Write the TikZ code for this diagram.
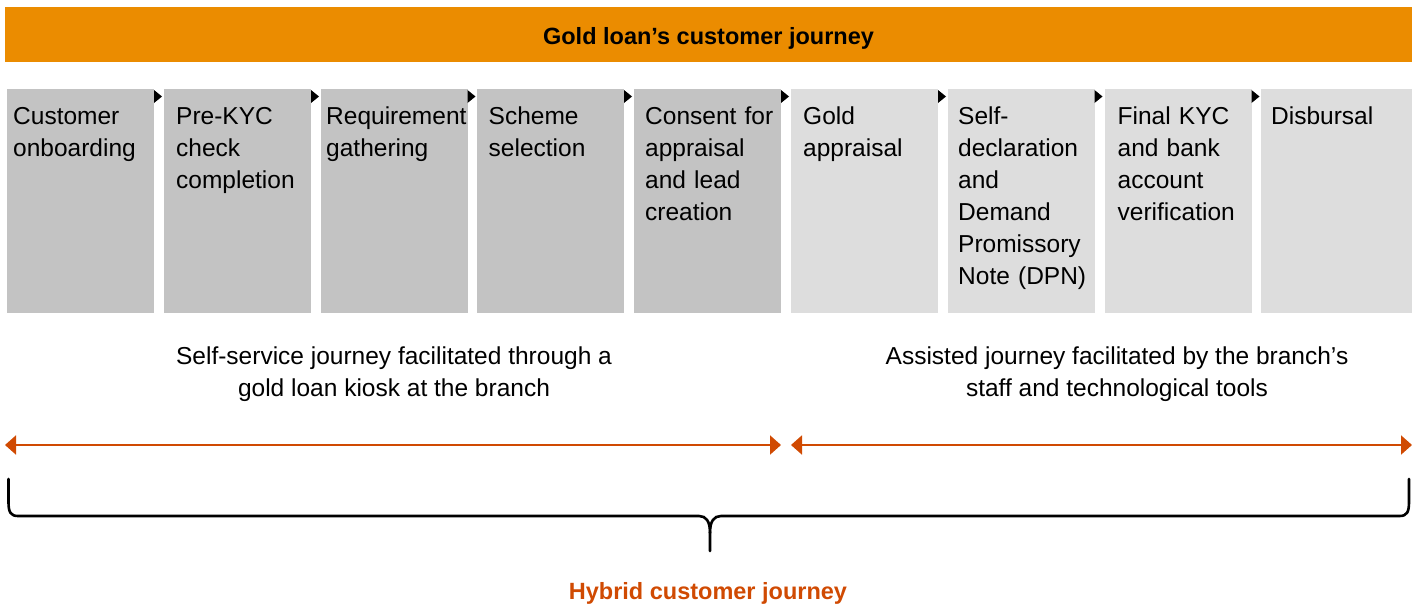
\documentclass[tikz,border=0pt]{standalone}
\usepackage{fontspec}
\setmainfont{Liberation Sans}
\usetikzlibrary{arrows.meta}
\definecolor{tang}{HTML}{EB8C00}
\definecolor{pwcor}{HTML}{D04A02}
\definecolor{darkbox}{HTML}{C3C3C3}
\definecolor{lightbox}{HTML}{DDDDDD}
\tikzset{
  stepbox/.style={fill=#1, draw=none, minimum width=147pt, minimum height=224pt,
    anchor=north west, inner sep=0pt, outer sep=0pt},
  steptext/.style={anchor=base west, text width=143pt, align=left, inner sep=0pt,
    font=\fontsize{24.5}{32}\selectfont},
  bodytext/.style={align=center, inner sep=0pt, font=\fontsize{24.5}{32}\selectfont},
  headtext/.style={anchor=base, inner sep=0pt, font=\bfseries\fontsize{23.5}{28}\selectfont},
  flowtri/.style={fill=black},
  orarrow/.style={draw=pwcor, line width=2pt,
    {Triangle[length=11pt,width=19pt]}-{Triangle[length=11pt,width=19pt]}},
  bracepath/.style={draw=black, line width=2.6pt, line cap=round}
}
\begin{document}
\begin{tikzpicture}[x=1pt,y=-1pt]
\useasboundingbox (0,0) rectangle (1417,606);
% banner
\node[fill=tang, minimum width=1407pt, minimum height=55pt, anchor=north west,
  inner sep=0pt, outer sep=0pt] (banner) at (5,7) {};
\node[headtext] (title) at (708.5,44.5) {Gold loan’s customer journey};
% boxes
\node[stepbox=darkbox] (b1) at (7,89) {};
\node[stepbox=darkbox] (b2) at (164,89) {};
\node[stepbox=darkbox] (b3) at (320.5,89) {};
\node[stepbox=darkbox] (b4) at (477,89) {};
\node[stepbox=darkbox] (b5) at (634,89) {};
\node[stepbox=lightbox] (b6) at (791,89) {};
\node[stepbox=lightbox] (b7) at (947.5,89) {};
\node[stepbox=lightbox] (b8) at (1104.5,89) {};
\node[stepbox=lightbox, minimum width=151pt] (b9) at (1261,89) {};
% box texts
\node[steptext] (t1) at ([xshift=6pt,yshift=-35pt]b1.north west) {Customer\\onboarding};
\node[steptext] (t2) at ([xshift=12pt,yshift=-35pt]b2.north west) {Pre-KYC\\check\\completion};
\node[steptext] (t3) at ([xshift=5.5pt,yshift=-35pt]b3.north west) {Requirement\\gathering};
\node[steptext] (t4) at ([xshift=11.5pt,yshift=-35pt]b4.north west) {Scheme\\selection};
\node[steptext] (t5) at ([xshift=11pt,yshift=-35pt]b5.north west) {Consent for\\appraisal\\and lead\\creation};
\node[steptext] (t6) at ([xshift=12pt,yshift=-35pt]b6.north west) {Gold\\appraisal};
\node[steptext] (t7) at ([xshift=10.5pt,yshift=-35pt]b7.north west) {Self-\\declaration\\and\\Demand\\Promissory\\Note (DPN)};
\node[steptext] (t8) at ([xshift=13pt,yshift=-35pt]b8.north west) {Final KYC\\and bank\\account\\verification};
\node[steptext] (t9) at ([xshift=10pt,yshift=-35pt]b9.north west) {Disbursal};
% flow triangles
\foreach \b in {b1,b2,b3,b4,b5,b6,b7,b8}{
  \fill[flowtri] ([yshift=-1pt]\b.north east) -- ++(0,13) -- ++(8,-6.5) -- cycle;
}
% middle texts
\node[bodytext] (selfsvc) at (394,374.5) {Self-service journey facilitated through a\\gold loan kiosk at the branch};
\node[bodytext] (assist) at (1117,374.5) {Assisted journey facilitated by the branch’s\\staff and technological tools};
% arrows
\coordinate (aL1) at (5,445);
\coordinate (aR1) at (781,445);
\coordinate (aL2) at (791,445);
\coordinate (aR2) at (1412,445);
\draw[orarrow] (aL1) -- (aR1);
\draw[orarrow] (aL2) -- (aR2);
% brace
\coordinate (brL) at (8.5,479);
\coordinate (brR) at (1409,479);
\coordinate (brM) at (710,551);
\draw[bracepath] (brL) -- (8.5,502) .. controls (8.5,512) and (10.5,516) .. (18,516)
  -- (699,516) .. controls (706,516) and (710,521) .. (710,533) -- (brM);
\draw[bracepath] (brR) -- (1409,502) .. controls (1409,512) and (1407,516) .. (1399.5,516)
  -- (721,516) .. controls (714,516) and (710,521) .. (710,533);
% hybrid label
\node[headtext, text=pwcor] (hybrid) at (708,599) {Hybrid customer journey};
\end{tikzpicture}
\end{document}
